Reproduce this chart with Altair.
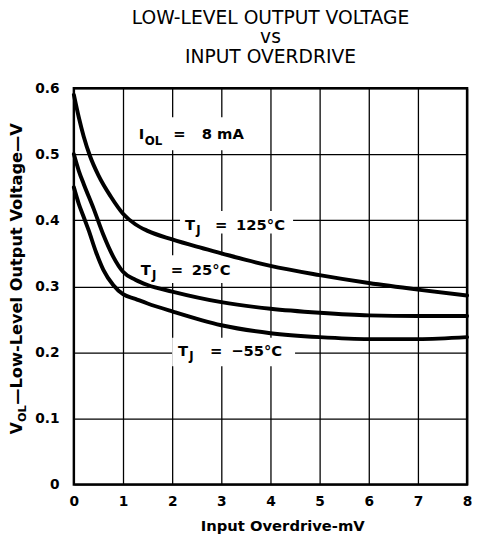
import altair as alt
import pandas as pd

# ---------------- data ----------------
x_ticks = [0, 1, 2, 3, 4, 5, 6, 7, 8]
y_ticks = [0, 0.1, 0.2, 0.3, 0.4, 0.5, 0.6]

od_125 = [0, 0.1, 0.2, 0.33, 0.5, 0.75, 1.0, 1.25, 1.5, 2, 2.5, 3, 3.5, 4, 5, 6, 7, 8]
v_125 = [0.59, 0.556, 0.527, 0.497, 0.468, 0.436, 0.41, 0.394, 0.384, 0.371, 0.360, 0.350, 0.340, 0.331, 0.317, 0.305, 0.295, 0.286]

od_25 = [0, 0.1, 0.2, 0.4, 0.6, 0.8, 1.0, 1.25, 1.5, 2, 3, 4, 5, 6, 7, 8]
v_25 = [0.50, 0.475, 0.455, 0.418, 0.378, 0.345, 0.322, 0.31, 0.302, 0.292, 0.276, 0.266, 0.26, 0.256, 0.255, 0.255]

od_m55 = [0, 0.1, 0.2, 0.3, 0.45, 0.6, 0.8, 1.0, 1.25, 1.5, 2, 3, 4, 5, 6, 7, 8]
v_m55 = [0.45, 0.425, 0.405, 0.385, 0.352, 0.325, 0.302, 0.288, 0.281, 0.274, 0.262, 0.241, 0.229, 0.223, 0.22, 0.22, 0.223]

# annotation text pieces (data-space anchor positions)
main_text = ["I", "=", "8 mA",
             "T", "=", "125°C",
             "T", "=", "25°C",
             "T", "=", "−55°C"]
main_x = [1.32, 2.02, 2.60,
          2.26, 2.87, 3.30,
          1.36, 1.97, 2.40,
          2.12, 2.77, 3.20]
main_y = [0.5226, 0.5226, 0.5226,
          0.3856, 0.3856, 0.3856,
          0.3171, 0.3171, 0.3171,
          0.1950, 0.1950, 0.1950]

sub_text = ["OL", "J", "J", "J"]
sub_x = [1.44, 2.49, 1.59, 2.35]
sub_y = [0.5136, 0.3797, 0.3112, 0.1891]

# white label backgrounds that interrupt the grid
box_x = [1.12, 2.16, 1.26, 2.00]
box_x2 = [3.70, 4.46, 3.36, 4.50]
box_y = [0.506, 0.380, 0.305, 0.179]
box_y2 = [0.556, 0.414, 0.347, 0.222]

title_lines = ["LOW-LEVEL OUTPUT VOLTAGE", "vs", "INPUT OVERDRIVE"]
x_title = "Input Overdrive-mV"

# ---------------- tables ----------------
curves = pd.concat([
    pd.DataFrame({"x": od_125, "y": v_125, "s": "125"}),
    pd.DataFrame({"x": od_25, "y": v_25, "s": "25"}),
    pd.DataFrame({"x": od_m55, "y": v_m55, "s": "-55"}),
])
mains = pd.DataFrame({"x": main_x, "y": main_y, "t": main_text})
subs = pd.DataFrame({"x": sub_x, "y": sub_y, "t": sub_text})
boxes = pd.DataFrame({"x": box_x, "x2": box_x2, "y": box_y, "y2": box_y2})

FONT = "DejaVu Sans"

xs = alt.Scale(domain=[0, 8], nice=False, zero=False)
ys = alt.Scale(domain=[0, 0.6], nice=False, zero=False)

x_axis = alt.Axis(values=x_ticks, grid=True, ticks=False, domain=False,
                  labelFont=FONT, labelFontWeight="bold", labelFontSize=14,
                  labelColor="black", labelPadding=10, labelFlush=False,
                  title=x_title, titleFont=FONT, titleFontWeight="bold",
                  titleFontSize=15, titleColor="black", titleX=212, titleY=47,
                  titleAlign="center", titleBaseline="alphabetic")
y_axis = alt.Axis(values=y_ticks, grid=True, ticks=False, domain=False,
                  labelFont=FONT, labelFontWeight="bold", labelFontSize=14,
                  labelColor="black", labelPadding=15, labelFlush=False,
                  labelExpr="datum.value == 0 ? '0' : format(datum.value, '.1f')",
                  title=None)

X = alt.X("x:Q", scale=xs, axis=x_axis)
Y = alt.Y("y:Q", scale=ys, axis=y_axis)

rects = alt.Chart(boxes).mark_rect(color="white").encode(
    x=X, x2="x2:Q", y=Y, y2="y2:Q")

lines = alt.Chart(curves).mark_line(
    color="black", strokeWidth=4, interpolate="monotone", strokeCap="round"
).encode(x=X, y=Y, detail="s:N")

main_lbl = alt.Chart(mains).mark_text(
    font=FONT, fontWeight="bold", fontSize=15, align="left",
    baseline="alphabetic", color="black"
).encode(x=X, y=Y, text="t:N")

sub_lbl = alt.Chart(subs).mark_text(
    font=FONT, fontWeight="bold", fontSize=12, align="left",
    baseline="alphabetic", color="black"
).encode(x=X, y=Y, text="t:N")

# rotated y-axis title with subscript
one = pd.DataFrame({"a": [0]})
YT_X, YT_Y = -53, 352
yt_v = alt.Chart(one).mark_text(
    text="V", font=FONT, fontWeight="bold", fontSize=16, angle=270,
    align="left", baseline="alphabetic", color="black"
).encode(x=alt.value(YT_X), y=alt.value(YT_Y))
yt_sub = alt.Chart(one).mark_text(
    text="OL", font=FONT, fontWeight="bold", fontSize=11.5, angle=270,
    align="left", baseline="alphabetic", color="black", dx=12.4, dy=4
).encode(x=alt.value(YT_X), y=alt.value(YT_Y))
yt_main = alt.Chart(one).mark_text(
    text="—Low-Level Output Voltage—V", font=FONT, fontWeight="bold",
    fontSize=16.5, angle=270, align="left", baseline="alphabetic",
    color="black", dx=30
).encode(x=alt.value(YT_X), y=alt.value(YT_Y))

chart = alt.layer(rects, lines, main_lbl, sub_lbl, yt_v, yt_sub, yt_main).properties(
    width=400, height=403,
    background="white",
    autosize=alt.AutoSizeParams(type="none"),
    padding={"left": 67, "top": 77, "right": 5, "bottom": 55},
    title=alt.TitleParams(text=title_lines, font=FONT, fontSize=19,
                          fontWeight="normal", color="black", lineHeight=19.5,
                          anchor="middle", offset=15),
).configure_view(
    stroke="black", strokeWidth=2.5
).configure_axis(
    gridColor="black", gridWidth=1.3, gridOpacity=1
)

chart.save("out.html", embed_options={"renderer": "svg", "actions": False})
